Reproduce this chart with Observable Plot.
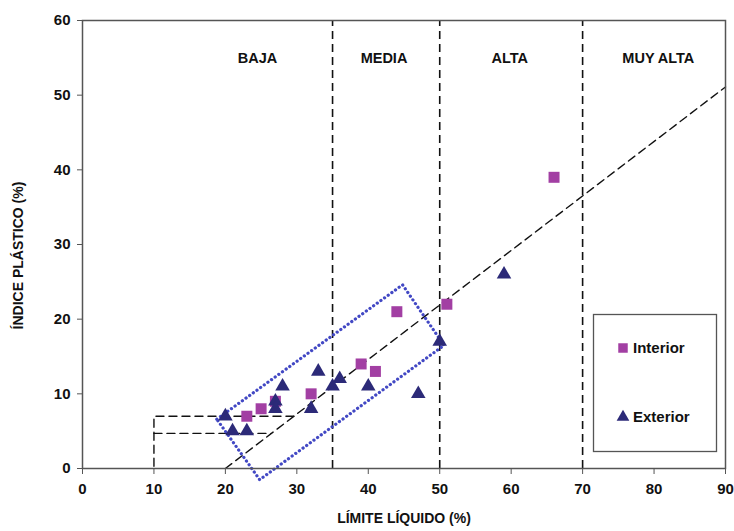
<!DOCTYPE html>
<html><head><meta charset="utf-8">
<script src="https://cdn.jsdelivr.net/npm/d3@7"></script>
<script src="https://cdn.jsdelivr.net/npm/@observablehq/plot@0.6"></script>
<style>
body{margin:0;background:#fff}
#chart{position:relative;width:734px;height:531px}
</style>
</head><body><div id="chart"></div>
<script>
// ---- data ----
const interiorLL = [23, 25, 27, 32, 39, 41, 44, 51, 66];
const interiorIP = [7, 8, 9, 10, 14, 13, 21, 22, 39];
const exteriorLL = [20, 21, 23, 27, 27, 28, 32, 33, 35, 36, 40, 47, 50, 59];
const exteriorIP = [7, 5, 5, 9, 8, 11, 8, 13, 11, 12, 11, 10, 17, 26];
const zoneNames = ["BAJA", "MEDIA", "ALTA", "MUY ALTA"];
const zoneLabelLL = [24.5, 42.2, 59.8, 80.6];
const zoneLabelIP = [54.9, 54.9, 54.9, 54.9];
const zoneBounds = [35, 50, 70];
const aLineLL = [20, 90];
const aLineIP = [0, 51.1];
const clmlOuterLL = [29.6, 10, 10];
const clmlOuterIP = [7, 7, 0];
const clmlInnerLL = [10, 26.4];
const clmlInnerIP = [4.7, 4.7];
const boxLL = [18.8, 44.8, 50.6, 24.8, 18.8];
const boxIP = [6.6, 24.6, 16.5, -1.5, 6.6];
const xTicks = [0, 10, 20, 30, 40, 50, 60, 70, 80, 90];
const yTicks = [0, 10, 20, 30, 40, 50, 60];
const seriesNames = ["Interior", "Exterior"];

const zip = (xs, ys) => xs.map((x, i) => ({x, y: ys[i]}));
const interior = zip(interiorLL, interiorIP);
const exterior = zip(exteriorLL, exteriorIP);
const zones = zoneNames.map((n, i) => ({name: n, x: zoneLabelLL[i], y: zoneLabelIP[i]}));

const font = "'Liberation Sans', Arial, sans-serif";
const magenta = "#a23fa3";
const navy = "#2c2a78";
const dotBlue = "#4248c4";
const dash = "8,5";

const chart = Plot.plot({
  width: 734, height: 531,
  marginLeft: 82, marginRight: 9, marginTop: 20, marginBottom: 63,
  x: {domain: [0, 90]},
  y: {domain: [0, 60]},
  style: {fontFamily: font, fontSize: "15px", fontWeight: "bold", color: "#111", background: "#fff"},
  marks: [
    Plot.ruleX(zoneBounds, {y1: 0, y2: 60, stroke: "#111", strokeWidth: 1.6, strokeDasharray: dash}),
    Plot.line(zip(aLineLL, aLineIP), {x: "x", y: "y", stroke: "#111", strokeWidth: 1.4, strokeDasharray: dash}),
    Plot.line(zip(clmlOuterLL, clmlOuterIP), {x: "x", y: "y", stroke: "#111", strokeWidth: 1.4, strokeDasharray: dash}),
    Plot.line(zip(clmlInnerLL, clmlInnerIP), {x: "x", y: "y", stroke: "#111", strokeWidth: 1.4, strokeDasharray: dash}),
    Plot.line(zip(boxLL, boxIP), {x: "x", y: "y", stroke: dotBlue, strokeWidth: 3.2, strokeDasharray: "0.1,4.4", strokeLinecap: "round"}),
    Plot.frame({stroke: "#555", strokeWidth: 1.5}),
    Plot.axisX({ticks: xTicks, tickSize: 6, tickPadding: 9, label: null, fontSize: 15, fontWeight: "bold", stroke: "#555"}),
    Plot.axisY({ticks: yTicks, tickSize: 5, tickPadding: 7, label: null, fontSize: 15, fontWeight: "bold", stroke: "#555"}),
    Plot.dot(interior, {x: "x", y: "y", symbol: "square", r: 6.2, fill: magenta, stroke: "none"}),
    Plot.dot(exterior, {x: "x", y: "y", symbol: "triangle", r: 5.4, fill: navy, stroke: "none"}),
    Plot.text(zones, {x: "x", y: "y", text: "name", fontSize: 14.5, fontWeight: "bold", fill: "#111"}),
    Plot.text(["ÍNDICE PLÁSTICO (%)"], {frameAnchor: "left", dx: -64, dy: 11, rotate: -90, textAnchor: "middle", fontSize: 14, fontWeight: "bold", fill: "#111"}),
    Plot.text(["LÍMITE LÍQUIDO (%)"], {frameAnchor: "bottom", dy: 54, textAnchor: "middle", fontSize: 14, fontWeight: "bold", fill: "#111"})
  ]
});
document.getElementById("chart").appendChild(chart);

// legend box drawn into the plot's svg
const svg = d3.select(chart);
const lg = svg.append("g").attr("font-family", font).attr("font-weight", "bold").attr("font-size", 15).attr("text-anchor", "start");
lg.append("rect").attr("x", 593.5).attr("y", 314.5).attr("width", 123).attr("height", 137)
  .attr("fill", "#fff").attr("stroke", "#555").attr("stroke-width", 1.3);
const entries = [
  {name: seriesNames[0], sym: d3.symbolSquare, color: magenta, cy: 348, size: 90},
  {name: seriesNames[1], sym: d3.symbolTriangle, color: navy, cy: 417, size: 70}
];
entries.forEach(e => {
  lg.append("path").attr("d", d3.symbol(e.sym, e.size)()).attr("transform", `translate(623,${e.cy})`).attr("fill", e.color);
  lg.append("text").attr("x", 633).attr("y", e.cy).attr("dy", "0.35em").attr("fill", "#111").attr("text-anchor", "start").text(e.name);
});
</script>
</body></html>
